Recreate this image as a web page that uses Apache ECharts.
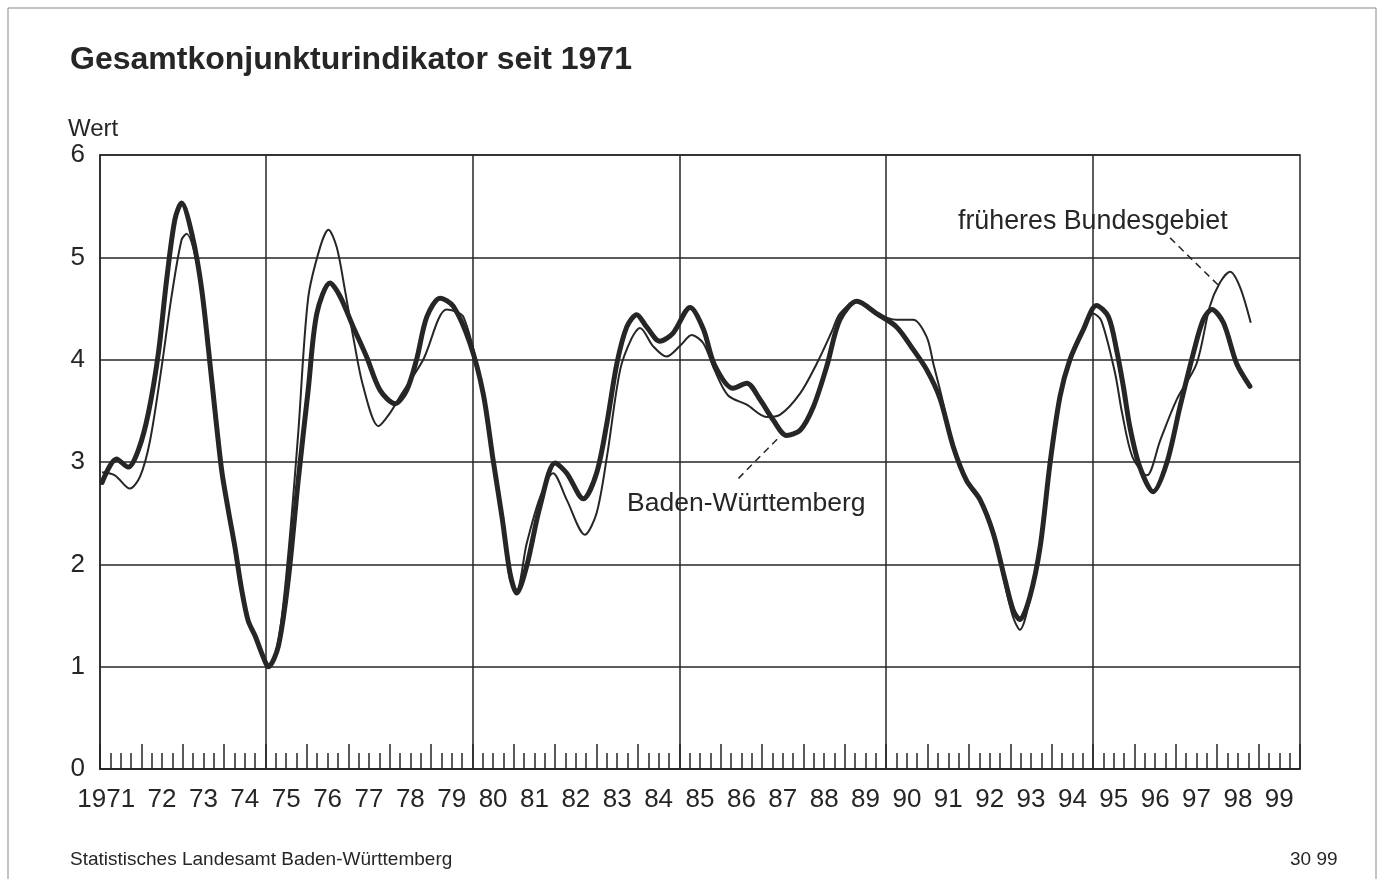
<!DOCTYPE html>
<html>
<head>
<meta charset="utf-8">
<script src="https://cdn.jsdelivr.net/npm/echarts@6/dist/echarts.min.js"></script>
<style>
html,body{margin:0;padding:0;background:#fff;}
#c{width:1380px;height:879px;}
</style>
</head>
<body>
<div id="c"></div>
<script>
// Year labels (one per calendar year, centred in the year band)
const yearLabels = ['1971','72','73','74','75','76','77','78','79','80','81','82','83','84','85','86','87','88','89','90','91','92','93','94','95','96','97','98','99'];
const yTicks = [0,1,2,3,4,5,6];
const gridYears = [1975,1980,1985,1990,1995];

// Baden-Württemberg (thick line)
const bwYears = [1971.05,1971.40,1971.68,1971.93,1972.17,1972.41,1972.61,1972.81,1972.97,1973.22,1973.46,1973.70,1973.94,1974.10,1974.26,1974.42,1974.58,1974.75,1974.92,1975.07,1975.31,1975.55,1975.79,1976.03,1976.24,1976.56,1976.80,1977.12,1977.44,1977.77,1978.13,1978.41,1978.65,1978.90,1979.22,1979.54,1979.94,1980.26,1980.50,1980.72,1980.91,1981.07,1981.31,1981.63,1982.00,1982.28,1982.68,1983.00,1983.25,1983.49,1983.73,1983.97,1984.21,1984.53,1984.85,1985.26,1985.58,1985.85,1986.30,1986.63,1986.95,1987.27,1987.59,1987.92,1988.24,1988.56,1988.88,1989.29,1989.77,1990.25,1990.65,1990.98,1991.30,1991.62,1991.94,1992.27,1992.59,1992.87,1993.07,1993.23,1993.47,1993.72,1993.96,1994.20,1994.44,1994.76,1995.08,1995.37,1995.57,1995.73,1995.89,1996.13,1996.45,1996.78,1997.10,1997.42,1997.66,1997.87,1998.15,1998.47,1998.79];
const bwValues = [2.80,3.03,2.95,3.12,3.48,4.06,4.78,5.37,5.53,5.23,4.68,3.80,2.92,2.53,2.17,1.76,1.45,1.30,1.12,1.00,1.20,1.85,2.82,3.70,4.45,4.75,4.62,4.32,4.03,3.70,3.57,3.70,4.00,4.42,4.60,4.52,4.16,3.67,3.02,2.45,1.91,1.72,1.98,2.56,2.99,2.89,2.64,2.89,3.38,3.96,4.32,4.44,4.32,4.18,4.26,4.51,4.30,3.95,3.72,3.77,3.61,3.41,3.26,3.31,3.54,3.93,4.39,4.57,4.45,4.32,4.10,3.90,3.62,3.15,2.82,2.63,2.30,1.85,1.55,1.46,1.68,2.17,2.99,3.64,4.00,4.29,4.53,4.42,4.09,3.74,3.34,2.95,2.71,2.99,3.54,4.06,4.39,4.49,4.36,3.96,3.74];

// früheres Bundesgebiet (thin line)
const fbYears = [1971.05,1971.36,1971.72,1971.97,1972.21,1972.49,1972.73,1972.97,1973.09,1973.46,1973.70,1973.94,1974.10,1974.26,1974.42,1974.58,1974.75,1974.92,1975.07,1975.31,1975.55,1975.79,1976.03,1976.32,1976.52,1976.72,1976.92,1977.12,1977.36,1977.73,1978.01,1978.25,1978.81,1979.38,1979.78,1980.26,1980.50,1980.72,1980.91,1981.07,1981.31,1981.63,1981.95,1982.28,1982.72,1983.00,1983.25,1983.57,1983.85,1984.05,1984.37,1984.69,1985.03,1985.30,1985.58,1985.85,1986.18,1986.63,1987.11,1987.43,1987.92,1988.32,1988.68,1988.88,1989.29,1989.77,1990.25,1990.65,1990.98,1991.14,1991.34,1991.62,1991.94,1992.27,1992.59,1992.87,1993.07,1993.23,1993.47,1993.72,1993.96,1994.20,1994.44,1994.76,1995.00,1995.20,1995.53,1995.70,1995.95,1996.30,1996.62,1997.02,1997.50,1997.82,1998.06,1998.31,1998.55,1998.81];
const fbValues = [2.90,2.87,2.74,2.86,3.21,3.93,4.62,5.17,5.23,4.68,3.80,2.92,2.53,2.17,1.76,1.45,1.30,1.12,1.00,1.25,2.10,3.28,4.60,5.10,5.27,5.10,4.68,4.22,3.74,3.35,3.48,3.64,4.00,4.49,4.42,3.67,3.02,2.45,1.85,1.75,2.20,2.65,2.89,2.63,2.29,2.50,3.05,3.90,4.21,4.31,4.13,4.03,4.14,4.24,4.16,3.90,3.65,3.56,3.44,3.46,3.67,3.96,4.27,4.45,4.57,4.45,4.39,4.39,4.22,3.96,3.64,3.15,2.82,2.63,2.30,1.80,1.48,1.36,1.65,2.17,2.99,3.64,4.00,4.29,4.45,4.38,3.87,3.48,3.05,2.87,3.21,3.61,3.96,4.52,4.75,4.86,4.71,4.36];

// Leader lines for the two annotations (data coordinates)
const fbLeader = [[1996.86,5.19],[1998.02,4.73]];
const bwLeader = [[1986.43,2.84],[1987.43,3.25]];

const bwData = bwYears.map((y,i)=>[y,bwValues[i]]);
const fbData = fbYears.map((y,i)=>[y,fbValues[i]]);

const INK = '#262626';
const FONT = '"Liberation Sans", Arial, sans-serif';

const chart = echarts.init(document.getElementById('c'), null, {renderer:'canvas'});
chart.setOption({
  backgroundColor:'#fff',
  animation:false,
  textStyle:{fontFamily:FONT,color:INK},
  grid:{left:100,right:80,top:155,bottom:110,show:true,borderColor:INK,borderWidth:1.5,backgroundColor:'transparent'},
  xAxis:[
    {type:'value',min:1971,max:2000,interval:1,
     axisLine:{show:true,lineStyle:{color:INK,width:1.5}},
     axisTick:{show:true,inside:true,length:25,lineStyle:{color:INK,width:1.5}},
     minorTick:{show:true,splitNumber:4,length:16,lineStyle:{color:INK,width:1.5}},
     axisLabel:{show:false},splitLine:{show:false},minorSplitLine:{show:false}},
    {type:'category',data:yearLabels,boundaryGap:true,position:'bottom',
     axisLine:{show:false},axisTick:{show:false},splitLine:{show:false},
     axisLabel:{show:true,interval:0,margin:18,fontSize:26,color:INK,fontFamily:FONT,
       formatter:(v,i)=> i===0 ? '{f|'+v+'}' : v,
       rich:{f:{fontSize:26,color:INK,fontFamily:FONT,padding:[0,29,0,0]}}}}
  ],
  yAxis:{type:'value',min:yTicks[0],max:yTicks[yTicks.length-1],interval:1,
    axisLine:{show:true,lineStyle:{color:INK,width:1.5}},
    axisTick:{show:false},
    axisLabel:{fontSize:26,color:INK,margin:15,fontFamily:FONT},
    splitLine:{show:true,lineStyle:{color:INK,width:1.5}}},
  series:[
    {type:'line',name:'früheres Bundesgebiet',data:fbData,xAxisIndex:0,smooth:0.3,showSymbol:false,z:3,
     lineStyle:{color:INK,width:2},
     markLine:{silent:true,symbol:['none','none'],label:{show:false},
       lineStyle:{type:'solid',color:INK,width:1.5},
       data:gridYears.map(y=>({xAxis:y}))}},
    {type:'line',name:'Baden-Württemberg',data:bwData,xAxisIndex:0,smooth:0.3,showSymbol:false,z:4,
     lineStyle:{color:INK,width:5,cap:'round',join:'round'}},
    {type:'line',data:fbLeader,xAxisIndex:0,showSymbol:false,z:2,lineStyle:{color:INK,width:1.5,type:[7,5]}},
    {type:'line',data:bwLeader,xAxisIndex:0,showSymbol:false,z:2,lineStyle:{color:INK,width:1.5,type:[7,5]}}
  ],
  graphic:[
    {type:'rect',shape:{x:8,y:8,width:1368,height:880},style:{fill:'none',stroke:'#888',lineWidth:1},silent:true},
    {type:'text',left:70,top:44,style:{text:'Gesamtkonjunkturindikator seit 1971',font:'bold 32px '+FONT,fill:INK}},
    {type:'text',left:68,top:117,style:{text:'Wert',font:'24px '+FONT,fill:INK}},
    {type:'text',left:958,top:208,style:{text:'früheres Bundesgebiet',font:'26.8px '+FONT,fill:INK}},
    {type:'text',left:627,top:490,style:{text:'Baden-Württemberg',font:'26.5px '+FONT,fill:INK}},
    {type:'text',left:70,top:850,style:{text:'Statistisches Landesamt Baden-Württemberg',font:'19px '+FONT,fill:INK}},
    {type:'text',left:1290,top:850,style:{text:'30 99',font:'19px '+FONT,fill:INK}}
  ]
});
</script>
</body>
</html>
